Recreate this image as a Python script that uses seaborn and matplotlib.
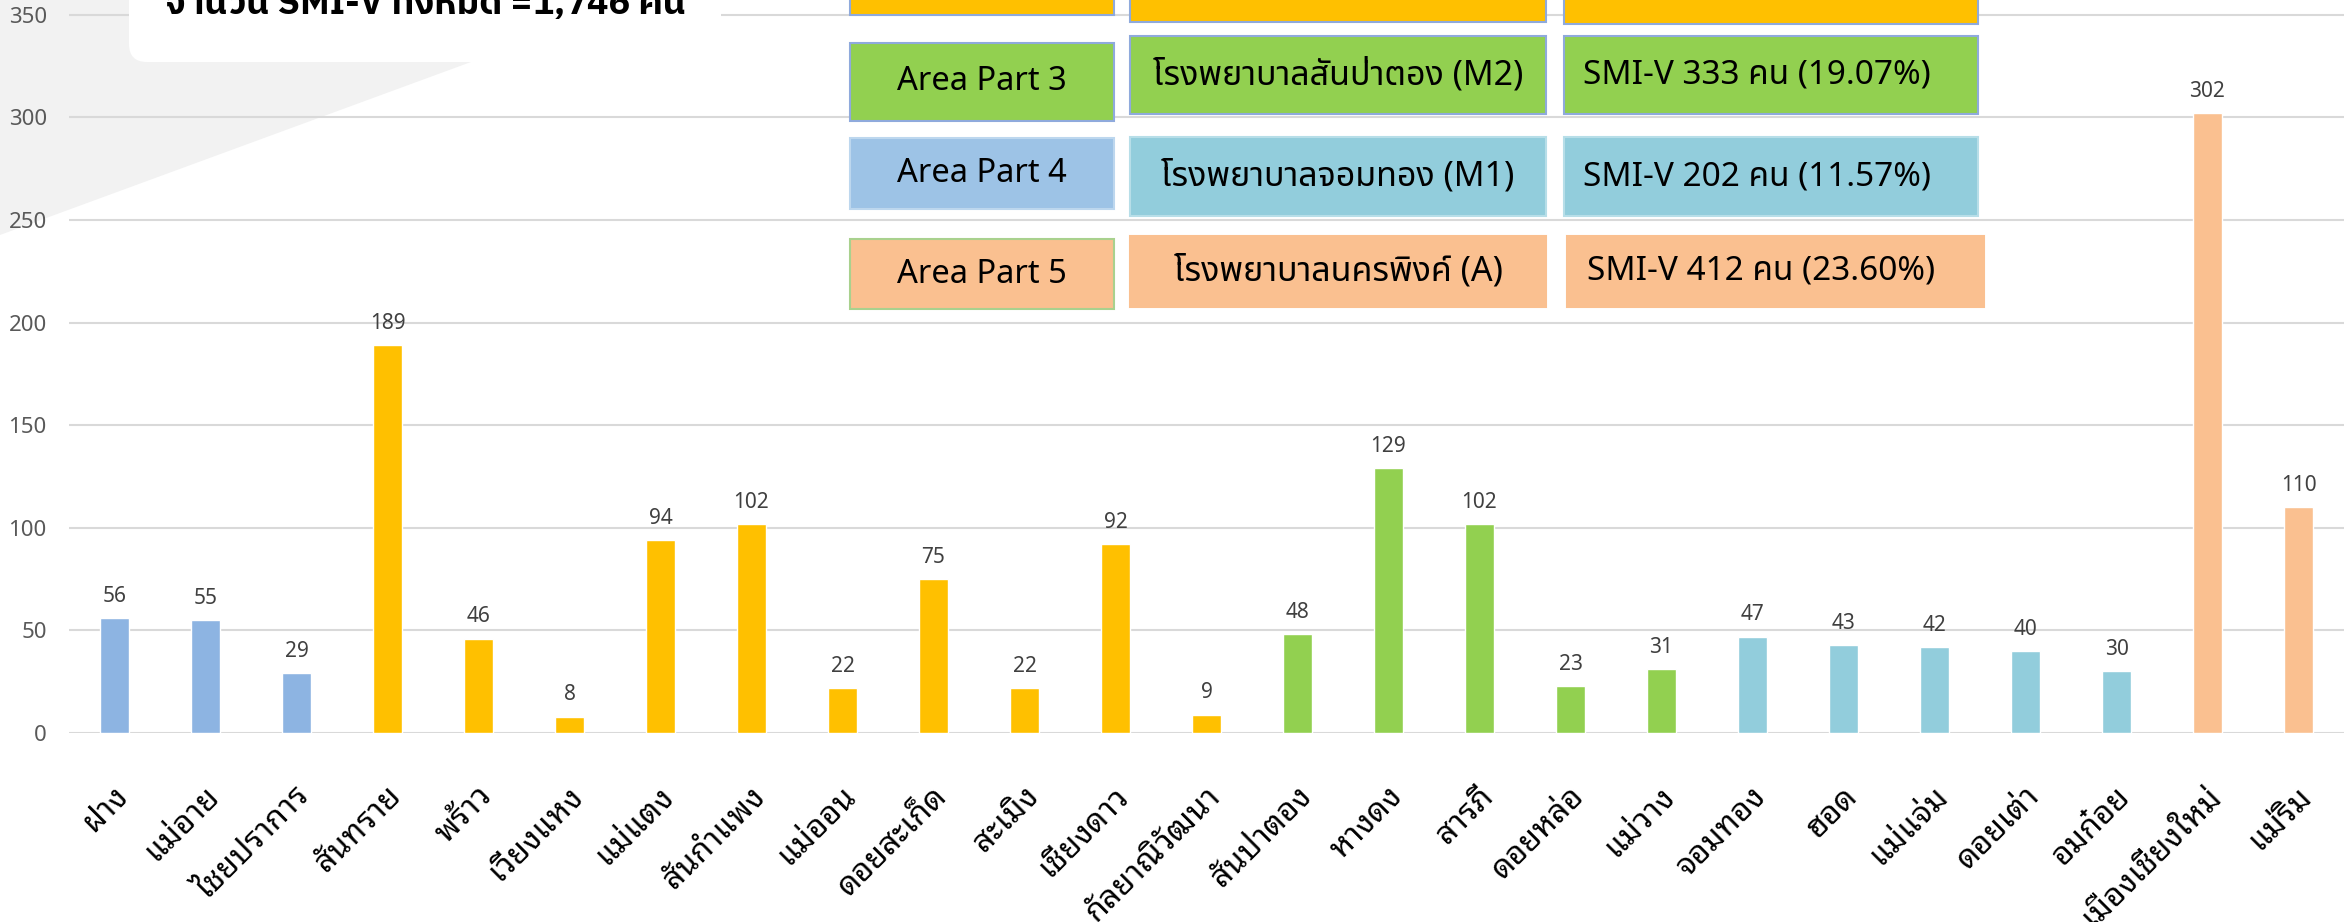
import matplotlib
matplotlib.use("Agg")
import matplotlib.pyplot as plt
import matplotlib.transforms as mtrans
from matplotlib.patches import FancyBboxPatch, Polygon, Rectangle
import seaborn as sns
import pandas as pd

# ---------------- data ----------------
districts = ["ฝาง", "แม่อาย", "ไชยปราการ", "สันทราย", "พร้าว", "เวียงแหง", "แม่แตง",
             "สันกำแพง", "แม่ออน", "ดอยสะเก็ด", "สะเมิง", "เชียงดาว", "กัลยาณิวัฒนา",
             "สันป่าตอง", "หางดง", "สารภี", "ดอยหล่อ", "แม่วาง", "จอมทอง", "ฮอด",
             "แม่แจ่ม", "ดอยเต่า", "อมก๋อย", "เมืองเชียงใหม่", "แม่ริม"]
counts = [56, 55, 29, 189, 46, 8, 94, 102, 22, 75, 22, 92, 9,
          48, 129, 102, 23, 31, 47, 43, 42, 40, 30, 302, 110]
areas = ["Area 1"] * 3 + ["Area 2"] * 10 + ["Area 3"] * 5 + ["Area 4"] * 5 + ["Area 5"] * 2
area_colors = {"Area 1": "#8DB4E2", "Area 2": "#FFC000", "Area 3": "#92D050",
               "Area 4": "#92CDDC", "Area 5": "#FAC090"}
y_ticks = [0, 50, 100, 150, 200, 250, 300, 350]

total_text = "จำนวน SMI-V ทั้งหมด =1,746 คน"
table_parts = ["Area Part 3", "Area Part 4", "Area Part 5"]
table_hospitals = ["โรงพยาบาลสันป่าตอง (M2)", "โรงพยาบาลจอมทอง (M1)", "โรงพยาบาลนครพิงค์ (A)"]
table_smi = ["SMI-V 333 คน (19.07%)", "SMI-V 202 คน (11.57%)", "SMI-V 412 คน (23.60%)"]

df = pd.DataFrame({"district": districts, "count": counts, "area": areas})

# ---------------- figure ----------------
W, H = 2346, 922
sns.set_theme(style="white")
plt.rcParams["font.family"] = ["Noto Sans", "Noto Sans Thai"]
fig = plt.figure(figsize=(W / 100, H / 100), dpi=100)
fig.patch.set_facecolor("white")

ymax = 355
px_per_unit = (733 - 14.7) / 350
ax_top = 733 - ymax * px_per_unit
ax = fig.add_axes([69 / W, 1 - 733 / H, 2275 / W, (733 - ax_top) / H])
ax.set_facecolor("none")

sns.barplot(data=df, x="district", y="count", hue="area", palette=area_colors,
            order=districts, dodge=False, width=0.32, saturation=1, legend=False, ax=ax)

ax.set_ylim(0, ymax)
ax.set_xlim(-0.5, len(districts) - 0.5)
ax.set_yticks(y_ticks)
ax.yaxis.grid(True, color="#D9D9D9", linewidth=1.5)
ax.set_axisbelow(True)
for s in ax.spines.values():
    s.set_visible(False)
ax.set_xlabel("")
ax.set_ylabel("")
ax.tick_params(axis="y", length=0, pad=16, labelsize=16, labelcolor="#595959")
ax.tick_params(axis="x", length=0, pad=42, labelsize=23, labelcolor="black")
for lab in ax.get_yticklabels():
    lab.set_fontfamily(["Noto Sans"])
xoff = mtrans.ScaledTranslation(9 / 100, 0, fig.dpi_scale_trans)
for lab in ax.get_xticklabels():
    lab.set_rotation(45)
    lab.set_ha("right")
    lab.set_va("center")
    lab.set_rotation_mode("anchor")
    lab.set_fontfamily(["Noto Sans Thai Looped", "Noto Sans"])
    lab.set_transform(lab.get_transform() + xoff)

for cont in ax.containers:
    ax.bar_label(cont, fmt="%d", padding=8, fontsize=15, color="#404040")

# ---------------- decorations (pixel coordinates, top-based y) ----------------
ident = mtrans.IdentityTransform()

def Y(y):
    return H - y

gray = Polygon([(0, Y(-5)), (640, Y(-5)), (471, Y(62)), (0, Y(235))], closed=True,
               transform=ident, facecolor="#F2F2F2", edgecolor="none", zorder=-1)
fig.patches.append(gray)

wbox = FancyBboxPatch((129, Y(62)), 721 - 129, 120, boxstyle="round,pad=0,rounding_size=18",
                      transform=ident, facecolor="white", edgecolor="none", zorder=5)
fig.patches.append(wbox)
fig.text(425 / W, 1 - 14 / H, total_text, ha="center", va="baseline", fontsize=26,
         fontweight="bold", color="black",
         family=["IBM Plex Sans Thai"], zorder=6)

def cell(x0, x1, y0, y1, fc, ec, text=None, size=22, dx=0):
    r = Rectangle((x0, Y(y1)), x1 - x0, y1 - y0, transform=ident, facecolor=fc,
                  edgecolor=ec, linewidth=1.5, zorder=5)
    fig.patches.append(r)
    if text:
        fig.text(((x0 + x1) / 2 + dx) / W, 1 - ((y0 + y1) / 2) / H, text, ha="center",
                 va="center", fontsize=size, color="black",
                 family=["Noto Sans", "Noto Sans Thai"], zorder=6)

# row of area part 2 (cut off at the top)
cell(850, 1114, -40, 15, "#FFC000", "#8FAADC")
cell(1130, 1546, -40, 22, "#FFC000", "#8FAADC")
cell(1564, 1978, -40, 24, "#FFC000", "#8FAADC")
# rows 3-5
cell(850, 1114, 43, 121, "#92D050", "#8FAADC", table_parts[0], 23.5)
cell(1130, 1546, 36, 114, "#92D050", "#8FAADC", table_hospitals[0], 24.5)
cell(1564, 1978, 36, 114, "#92D050", "#8FAADC", table_smi[0], 24, -14)
cell(850, 1114, 138, 209, "#9DC3E6", "#BDD7EE", table_parts[1], 23.5)
cell(1130, 1546, 137, 216, "#92CDDC", "#B7DEE8", table_hospitals[1], 24.5)
cell(1564, 1978, 137, 216, "#92CDDC", "#B7DEE8", table_smi[1], 24, -14)
cell(850, 1114, 239, 309, "#FAC090", "#A9D18E", table_parts[2], 23.5)
cell(1130, 1546, 236, 307, "#FAC090", "#FAC090", table_hospitals[2], 24.5)
cell(1567, 1984, 236, 307, "#FAC090", "#FAC090", table_smi[2], 24, -14)

fig.savefig("out.png", dpi=100)
